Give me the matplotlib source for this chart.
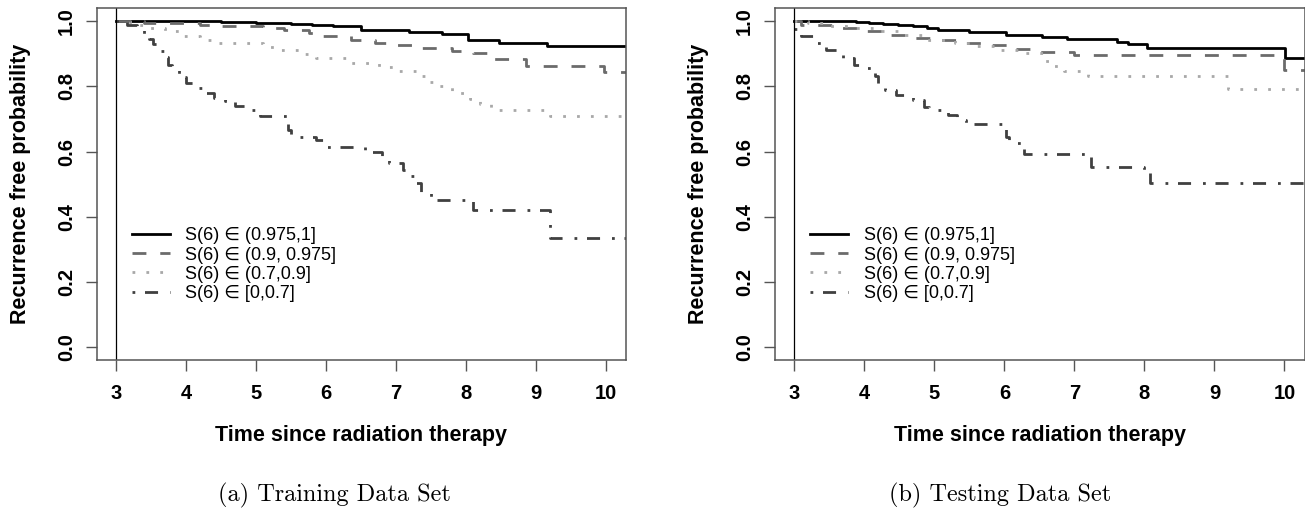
import matplotlib
matplotlib.use("Agg")
import matplotlib.pyplot as plt

plt.rcParams['font.family'] = ['Liberation Sans', 'DejaVu Sans']

# ---- data ----
end_time = 10.5

# (a) Training
train_top_t = [3.0, 4.5, 5.0, 5.5, 5.8, 6.1, 6.5, 7.18, 7.66, 8.02, 8.47, 9.16]
train_top_s = [1.0, 0.998, 0.996, 0.993, 0.99, 0.985, 0.974, 0.966, 0.961, 0.944, 0.935, 0.925]

train_mid_t = [3.0, 3.4, 4.2, 4.5, 5.1, 5.4, 5.75, 5.95, 6.35, 6.7, 7.0, 7.35, 7.8, 8.1, 8.4, 8.85, 9.97]
train_mid_s = [1.0, 0.995, 0.99, 0.985, 0.98, 0.974, 0.964, 0.956, 0.944, 0.935, 0.928, 0.918, 0.91, 0.902, 0.884, 0.864, 0.843]

train_low_t = [3.0, 3.2, 3.45, 3.7, 3.95, 4.2, 4.45, 5.1, 5.25, 5.7, 5.85, 6.3, 6.75, 7.0, 7.3, 7.45, 7.6, 7.8, 8.05, 8.2, 8.35, 9.2]
train_low_s = [1.0, 0.99, 0.98, 0.97, 0.955, 0.944, 0.933, 0.922, 0.913, 0.9, 0.887, 0.872, 0.86, 0.848, 0.832, 0.815, 0.8, 0.78, 0.762, 0.745, 0.728, 0.71]

train_bad_t = [3.0, 3.15, 3.3, 3.4, 3.47, 3.53, 3.6, 3.68, 3.74, 3.8, 3.9, 4.0, 4.1, 4.25, 4.4, 4.55, 4.7, 4.85,
               5.05, 5.45, 5.5, 5.85, 5.95, 6.55, 6.8, 6.9, 7.1, 7.2, 7.28, 7.35, 7.5, 8.1, 9.2]
train_bad_s = [1.0, 0.99, 0.98, 0.96, 0.945, 0.93, 0.91, 0.89, 0.865, 0.85, 0.83, 0.81, 0.795, 0.78, 0.765, 0.755, 0.74, 0.728,
               0.71, 0.665, 0.645, 0.635, 0.615, 0.6, 0.58, 0.565, 0.545, 0.525, 0.505, 0.477, 0.45, 0.42, 0.335]

# (b) Testing
test_top_t = [3.0, 3.88, 4.06, 4.27, 4.48, 4.69, 4.9, 5.05, 5.5, 6.03, 6.54, 6.9, 7.61, 7.76, 8.03, 10.01]
test_top_s = [1.0, 0.998, 0.995, 0.992, 0.988, 0.985, 0.979, 0.972, 0.967, 0.959, 0.952, 0.946, 0.936, 0.93, 0.918, 0.887]

test_mid_t = [3.0, 3.1, 3.6, 4.0, 4.35, 4.7, 5.05, 5.4, 5.8, 6.15, 6.5, 7.0, 10.0]
test_mid_s = [1.0, 0.99, 0.979, 0.969, 0.959, 0.949, 0.942, 0.933, 0.928, 0.915, 0.905, 0.897, 0.851]

test_low_t = [3.0, 3.2, 3.5, 3.8, 4.2, 4.5, 4.9, 5.3, 5.6, 5.9, 6.2, 6.55, 6.7, 6.85, 7.2, 9.19]
test_low_s = [1.0, 0.995, 0.985, 0.98, 0.969, 0.959, 0.944, 0.933, 0.923, 0.913, 0.903, 0.877, 0.862, 0.846, 0.833, 0.792]

test_bad_t = [3.0, 3.1, 3.3, 3.45, 3.7, 3.85, 4.0, 4.15, 4.2, 4.3, 4.45, 4.7, 4.85, 4.93, 5.2, 5.33, 5.45,
              6.02, 6.06, 6.28, 7.24, 8.0, 8.08]
test_bad_s = [0.976, 0.956, 0.933, 0.913, 0.887, 0.867, 0.856, 0.831, 0.805, 0.79, 0.774, 0.759, 0.738, 0.728, 0.713, 0.697, 0.685,
              0.646, 0.626, 0.593, 0.554, 0.533, 0.503]

group_labels = ["S(6) \u2208 (0.975,1]", "S(6) \u2208 (0.9, 0.975]", "S(6) \u2208 (0.7,0.9]", "S(6) \u2208 [0,0.7]"]
panel_titles = ["(a) Training Data Set", "(b) Testing Data Set"]

# ---- styles ----
styles = [
    dict(color='#000000', linestyle='-'),
    dict(color='#6b6b6b', linestyle=(0, (5, 5))),
    dict(color='#a8a8a8', linestyle=(0, (1, 4))),
    dict(color='#404040', linestyle=(0, (1, 3.5, 4.7, 4.3))),
]

panels = [
    [(train_top_t, train_top_s), (train_mid_t, train_mid_s), (train_low_t, train_low_s), (train_bad_t, train_bad_s)],
    [(test_top_t, test_top_s), (test_mid_t, test_mid_s), (test_low_t, test_low_s), (test_bad_t, test_bad_s)],
]

fig = plt.figure(figsize=(13.05, 5.13), dpi=100)
lefts = [96.7 / 1305, 775 / 1305]
caption_x = [334 / 1305, 1000 / 1305]

for k, curves in enumerate(panels):
    ax = fig.add_axes([lefts[k], 0.2982, 529.5 / 1305, 0.6856])
    for (t, s), st, lab in zip(curves, styles, group_labels):
        ax.step(list(t) + [end_time], list(s) + [s[-1]], where='post', lw=2.0, label=lab, **st)
    ax.axvline(3, color='black', lw=0.9)

    ax.set_xlim(2.724, 10.286)
    ax.set_ylim(-0.04, 1.04)
    ax.set_xticks(range(3, 11))
    ax.set_yticks([0.0, 0.2, 0.4, 0.6, 0.8, 1.0])
    ax.set_yticklabels(['0.0', '0.2', '0.4', '0.6', '0.8', '1.0'], rotation=90, va='center')
    for lbl in ax.get_xticklabels() + ax.get_yticklabels():
        lbl.set_fontweight('bold')
        lbl.set_fontsize(14.5)
    ax.tick_params(axis='both', length=8, width=1.0, color='#555555')
    ax.tick_params(axis='x', pad=9)
    ax.tick_params(axis='y', pad=7)
    for sp in ax.spines.values():
        sp.set_color('#555555')
        sp.set_linewidth(1.1)

    ax.set_xlabel("Time since radiation therapy", fontsize=15.5, fontweight='bold')
    ax.xaxis.set_label_coords(0.5, -0.185)
    ax.set_ylabel("Recurrence free probability", fontsize=15.5, fontweight='bold')
    ax.yaxis.set_label_coords(-0.124, 0.5)

    ax.legend(loc='upper left', bbox_to_anchor=(0.0667, 0.377), frameon=False, fontsize=13,
              handlelength=2.1, handletextpad=0.85, labelspacing=0.12, borderpad=0, borderaxespad=0)

    fig.text(caption_x[k], 18 / 513, panel_titles[k], ha='center', va='center',
             fontsize=17.5, family='cmr10')

plt.savefig('out.png', dpi=100)
